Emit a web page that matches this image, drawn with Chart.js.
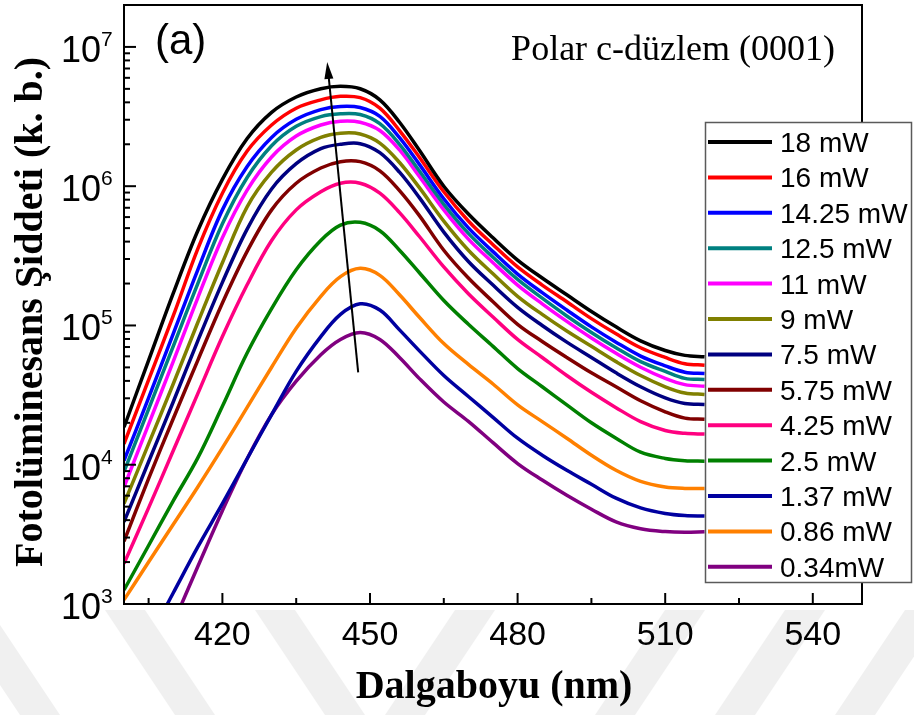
<!DOCTYPE html>
<html>
<head>
<meta charset="utf-8">
<script src="https://cdn.jsdelivr.net/npm/chart.js@4.4.1/dist/chart.umd.min.js"></script>
<style>
  html, body { margin: 0; padding: 0; background: #fff; overflow: hidden; }
  #wrap { width: 914px; height: 715px; }
</style>
</head>
<body>
<div id="wrap"><canvas id="pl" width="914" height="715"></canvas></div>
<script>
// ─── PL spectra, polar c-plane (0001) ───────────────────────────────────────
// wavelength grid (nm) shared by all spectra
const WAVELENGTH = [400,405,410,415,420,425,430,435,440,444,448,452,456,460,465,470,475,480,485,490,495,500,505,510,514,518];

const LABELS = ['18 mW','16 mW','14.25 mW','12.5 mW','11 mW','9 mW','7.5 mW','5.75 mW','4.25 mW','2.5 mW','1.37 mW','0.86 mW','0.34mW'];
const COLORS = ['#000000','#ff0000','#0000ff','#008080','#ff00ff','#808000','#000080','#800000','#ff0080','#008000','#0000a0','#ff8000','#800080'];

// intensities (a.u.)
const PL_18   = [1.86e4,5.62e4,1.70e5,4.79e5,1.12e6,2.19e6,3.39e6,4.37e6,5.01e6,5.22e6,5.01e6,4.17e6,2.88e6,1.82e6,1.00e6,6.31e5,4.26e5,2.95e5,2.19e5,1.66e5,1.26e5,9.77e4,7.76e4,6.61e4,6.10e4,5.96e4];
const PL_16   = [1.41e4,4.07e4,1.17e5,3.55e5,8.91e5,1.78e6,2.75e6,3.63e6,4.17e6,4.42e6,4.32e6,3.63e6,2.51e6,1.62e6,9.12e5,5.63e5,3.80e5,2.63e5,1.95e5,1.48e5,1.12e5,8.71e4,6.92e4,5.89e4,5.31e4,5.19e4];
const PL_1425 = [1.07e4,3.02e4,8.71e4,2.51e5,6.76e5,1.38e6,2.24e6,3.02e6,3.55e6,3.74e6,3.67e6,3.17e6,2.23e6,1.44e6,8.13e5,5.02e5,3.39e5,2.34e5,1.72e5,1.29e5,9.77e4,7.59e4,6.03e4,5.13e4,4.62e4,4.52e4];
const PL_125  = [8.91e3,2.51e4,7.08e4,2.00e5,5.37e5,1.15e6,1.95e6,2.69e6,3.16e6,3.31e6,3.27e6,2.81e6,2.00e6,1.29e6,7.41e5,4.58e5,3.09e5,2.14e5,1.57e5,1.17e5,8.91e4,6.92e4,5.50e4,4.68e4,4.17e4,4.09e4];
const PL_11   = [6.92e3,1.95e4,5.50e4,1.58e5,4.27e5,9.33e5,1.62e6,2.29e6,2.75e6,2.93e6,2.88e6,2.51e6,1.82e6,1.18e6,6.76e5,4.17e5,2.82e5,1.95e5,1.43e5,1.07e5,8.13e4,6.31e4,5.01e4,4.17e4,3.76e4,3.66e4];
const PL_9    = [5.25e3,1.41e4,3.80e4,1.05e5,2.82e5,7.08e5,1.26e6,1.82e6,2.24e6,2.40e6,2.37e6,2.04e6,1.48e6,9.80e5,5.62e5,3.47e5,2.35e5,1.62e5,1.20e5,9.12e4,7.08e4,5.50e4,4.37e4,3.63e4,3.27e4,3.20e4];
const PL_75   = [3.89e3,1.05e4,2.82e4,7.76e4,2.04e5,4.90e5,9.55e5,1.45e6,1.86e6,2.00e6,2.02e6,1.74e6,1.26e6,8.31e5,4.68e5,2.88e5,1.95e5,1.35e5,1.00e5,7.59e4,5.89e4,4.57e4,3.63e4,3.02e4,2.75e4,2.71e4];
const PL_575  = [2.82e3,7.94e3,2.14e4,5.62e4,1.45e5,3.39e5,6.76e5,1.05e6,1.35e6,1.50e6,1.50e6,1.29e6,9.30e5,6.17e5,3.47e5,2.19e5,1.48e5,1.02e5,7.67e4,5.89e4,4.57e4,3.63e4,2.88e4,2.40e4,2.16e4,2.12e4];
const PL_425  = [1.95e3,4.90e3,1.26e4,3.24e4,8.32e4,1.95e5,4.07e5,6.76e5,9.12e5,1.05e6,1.05e6,8.91e5,6.46e5,4.37e5,2.63e5,1.69e5,1.15e5,7.94e4,5.89e4,4.37e4,3.31e4,2.57e4,2.04e4,1.76e4,1.68e4,1.66e4];
const PL_25   = [1.26e3,2.63e3,5.50e3,1.12e4,2.63e4,6.31e4,1.32e5,2.51e5,4.07e5,5.25e5,5.50e5,4.79e5,3.47e5,2.40e5,1.51e5,1.02e5,7.08e4,4.90e4,3.63e4,2.69e4,2.00e4,1.55e4,1.23e4,1.11e4,1.07e4,1.06e4];
const PL_137  = [282,562,1.20e3,2.57e3,5.25e3,1.10e4,2.29e4,4.68e4,8.32e4,1.20e5,1.43e5,1.29e5,9.30e4,6.60e4,4.37e4,3.09e4,2.19e4,1.55e4,1.17e4,9.12e3,7.24e3,5.75e3,4.90e3,4.47e3,4.32e3,4.28e3];
const PL_086  = [1.07e3,2.00e3,3.72e3,6.92e3,1.32e4,2.57e4,5.01e4,9.55e4,1.62e5,2.24e5,2.57e5,2.29e5,1.66e5,1.15e5,7.41e4,5.25e4,3.80e4,2.69e4,2.04e4,1.55e4,1.17e4,9.12e3,7.59e3,6.92e3,6.76e3,6.76e3];
const PL_034  = [126,282,724,1.86e3,4.68e3,1.10e4,2.29e4,3.98e4,6.17e4,7.94e4,8.91e4,7.94e4,5.89e4,4.17e4,2.82e4,2.05e4,1.44e4,1.02e4,7.76e3,6.03e3,4.79e3,3.89e3,3.47e3,3.31e3,3.27e3,3.30e3];

const SERIES = [PL_18, PL_16, PL_1425, PL_125, PL_11, PL_9, PL_75, PL_575, PL_425, PL_25, PL_137, PL_086, PL_034];

// axis ticks
const X_TICKS = [420, 450, 480, 510, 540];
const X_MINOR = [405, 435, 465, 495, 525];
const Y_DECADES = [3, 4, 5, 6, 7];

// arrow (power increasing), from bottom to tip
const ARROW_X = [447.6, 441.3];
const ARROW_Y = [4.6e4, 7.8e6];

const SANS = '"Liberation Sans", Arial, sans-serif';
const SERIF = '"Liberation Serif", "Times New Roman", serif';

function line(ctx, x1, y1, x2, y2) {
  ctx.beginPath(); ctx.moveTo(x1, y1); ctx.lineTo(x2, y2); ctx.stroke();
}

// thesis watermark stripes below the plot
function drawWatermark(ctx) {
  const bands = [[-50, 20], [105, 175], [255, 325], [455, 385], [665, 595], [785, 715], [905, 835]];
  ctx.fillStyle = '#f0f0f0';
  bands.forEach(([top, bot]) => {
    ctx.beginPath();
    ctx.moveTo(top, 610); ctx.lineTo(top + 40, 610);
    ctx.lineTo(bot + 40, 715); ctx.lineTo(bot, 715);
    ctx.closePath(); ctx.fill();
  });
}

const decor = {
  id: 'decor',
  beforeDraw(chart) {
    const ctx = chart.ctx;
    ctx.save();
    ctx.fillStyle = '#fff';
    ctx.fillRect(0, 0, chart.width, chart.height);
    drawWatermark(ctx);
    ctx.restore();
  },
  afterDatasetsDraw(chart) {
    const { ctx, chartArea: a, scales: { x, y } } = chart;
    ctx.save();
    ctx.strokeStyle = '#000';
    ctx.lineWidth = 2;
    ctx.strokeRect(a.left, a.top, a.right - a.left, a.bottom - a.top);

    // y ticks, pointing in
    Y_DECADES.forEach(n => {
      for (let m = 1; m <= 9; m++) {
        const v = m * Math.pow(10, n);
        if (v > y.max) break;
        const py = y.getPixelForValue(v);
        line(ctx, a.left, py, a.left + (m === 1 ? 12 : 6), py);
      }
    });
    // x ticks, pointing in
    X_TICKS.forEach(v => { const px = x.getPixelForValue(v); line(ctx, px, a.bottom, px, a.bottom - 11); });
    X_MINOR.forEach(v => { const px = x.getPixelForValue(v); line(ctx, px, a.bottom, px, a.bottom - 6); });

    // tick labels
    ctx.fillStyle = '#000';
    ctx.textBaseline = 'alphabetic';
    Y_DECADES.forEach(n => {
      const py = y.getPixelForValue(Math.pow(10, n));
      ctx.font = '36px ' + SANS;
      ctx.textAlign = 'right';
      ctx.fillText('10', 101, py + 15);
      ctx.font = '21px ' + SANS;
      ctx.textAlign = 'left';
      ctx.fillText(String(n), 101, py - 1);
    });
    ctx.font = '34px ' + SANS;
    ctx.textAlign = 'center';
    X_TICKS.forEach(v => ctx.fillText(String(v), x.getPixelForValue(v), 645));

    // axis titles
    ctx.font = 'bold 40px ' + SERIF;
    ctx.fillText('Dalgaboyu (nm)', 494, 698);
    ctx.save();
    ctx.translate(42, 312);
    ctx.rotate(-Math.PI / 2);
    ctx.fillText('Fotolüminesans Şiddeti (k. b.)', 0, 0);
    ctx.restore();

    // panel tag and sample note
    ctx.textAlign = 'left';
    ctx.font = '42px ' + SANS;
    ctx.fillText('(a)', 155, 54);
    ctx.textAlign = 'right';
    ctx.font = '36px ' + SERIF;
    ctx.fillText('Polar c-düzlem (0001)', 835, 60);

    // arrow
    const x0 = x.getPixelForValue(ARROW_X[0]), y0 = y.getPixelForValue(ARROW_Y[0]);
    const x1 = x.getPixelForValue(ARROW_X[1]), y1 = y.getPixelForValue(ARROW_Y[1]);
    const ang = Math.atan2(y1 - y0, x1 - x0);
    ctx.lineWidth = 2;
    line(ctx, x0, y0, x1 - 12 * Math.cos(ang), y1 - 12 * Math.sin(ang));
    ctx.beginPath();
    ctx.moveTo(x1, y1);
    ctx.lineTo(x1 - 17 * Math.cos(ang) + 4.5 * Math.sin(ang), y1 - 17 * Math.sin(ang) - 4.5 * Math.cos(ang));
    ctx.lineTo(x1 - 17 * Math.cos(ang) - 4.5 * Math.sin(ang), y1 - 17 * Math.sin(ang) + 4.5 * Math.cos(ang));
    ctx.closePath();
    ctx.fill();

    // legend box
    ctx.fillStyle = '#fff';
    ctx.fillRect(705, 122, 207, 461);
    ctx.strokeStyle = '#5a5a5a';
    ctx.lineWidth = 1.5;
    ctx.strokeRect(705.5, 122.5, 206, 460);
    ctx.font = '28px ' + SANS;
    ctx.textAlign = 'left';
    chart.data.datasets.forEach((ds, i) => {
      const ly = 142 + i * 35.4;
      ctx.strokeStyle = ds.borderColor;
      ctx.lineWidth = 4;
      line(ctx, 708, ly, 772, ly);
      ctx.fillStyle = '#000';
      ctx.fillText(ds.label, 780, ly + 10);
    });
    ctx.restore();
  }
};

new Chart(document.getElementById('pl'), {
  type: 'line',
  data: {
    datasets: SERIES.map((vals, i) => ({
      label: LABELS[i],
      data: WAVELENGTH.map((w, j) => ({ x: w, y: vals[j] })),
      borderColor: COLORS[i],
      borderWidth: 3.5,
      pointRadius: 0,
      tension: 0.35,
      clip: 0,
      fill: false,
    }))
  },
  options: {
    responsive: false,
    animation: false,
    devicePixelRatio: 1,
    layout: { padding: { left: 124, right: 52, top: 5, bottom: 111 } },
    plugins: { legend: { display: false }, tooltip: { enabled: false } },
    scales: {
      x: { type: 'linear', min: 400, max: 550, display: false },
      y: { type: 'logarithmic', min: 1000, max: 2e7, display: false }
    }
  },
  plugins: [decor]
});
</script>
</body>
</html>
